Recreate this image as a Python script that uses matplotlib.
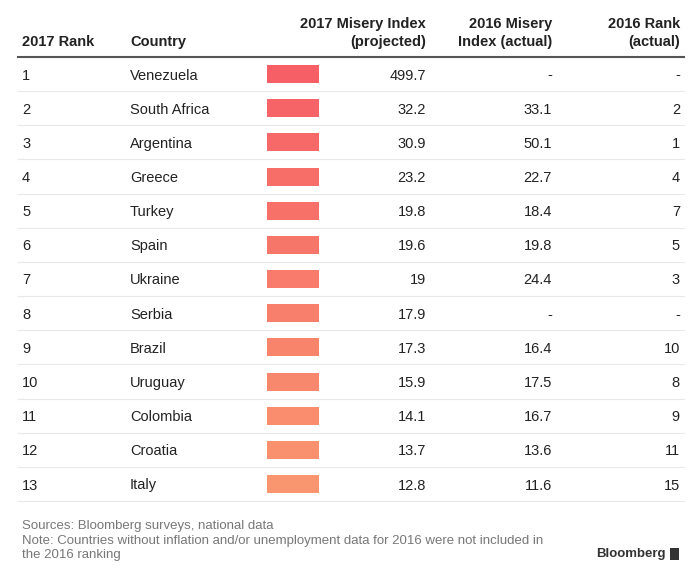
import matplotlib.pyplot as plt
import matplotlib.colors as mcolors
import numpy as np

plt.rcParams['font.family'] = ['Liberation Sans', 'DejaVu Sans']

ranks_2017 = ['1', '2', '3', '4', '5', '6', '7', '8', '9', '10', '11', '12', '13']
countries = ['Venezuela', 'South Africa', 'Argentina', 'Greece', 'Turkey', 'Spain',
             'Ukraine', 'Serbia', 'Brazil', 'Uruguay', 'Colombia', 'Croatia', 'Italy']
misery_2017 = ['499.7', '32.2', '30.9', '23.2', '19.8', '19.6', '19', '17.9',
               '17.3', '15.9', '14.1', '13.7', '12.8']
misery_2016 = ['-', '33.1', '50.1', '22.7', '18.4', '19.8', '24.4', '-',
               '16.4', '17.5', '16.7', '13.6', '11.6']
ranks_2016 = ['-', '2', '1', '4', '7', '5', '3', '-', '10', '8', '9', '11', '15']

fig = plt.figure(figsize=(7, 5.77), dpi=100)
ax = fig.add_axes([0, 0, 1, 1])
ax.set_xlim(0, 700)
ax.set_ylim(577, 0)
ax.axis('off')

dark = '#222222'
hfs = 10.5
fs = 10.5

# header
ax.text(22, 42, '2017 Rank', fontsize=hfs, fontweight='bold', color=dark, va='center')
ax.text(130, 42, 'Country', fontsize=hfs, fontweight='bold', color=dark, va='center')
ax.text(426, 33, '2017 Misery Index\n(projected)', fontsize=hfs, fontweight='bold',
        color=dark, va='center', ha='right', linespacing=1.3)
ax.text(552, 33, '2016 Misery\nIndex (actual)', fontsize=hfs, fontweight='bold',
        color=dark, va='center', ha='right', linespacing=1.3)
ax.text(680, 33, '2016 Rank\n(actual)', fontsize=hfs, fontweight='bold',
        color=dark, va='center', ha='right', linespacing=1.3)
ax.plot([18, 684], [57, 57], color='#555555', lw=1.5)

c_top = np.array(mcolors.to_rgb('#f65f66'))
c_bot = np.array(mcolors.to_rgb('#f9966f'))
step = (484 - 74) / 12
n = len(countries)
for i in range(n):
    y = 74 + i * step
    kw = dict(fontsize=fs, color=dark, va='center_baseline')
    ax.text(22, y, ranks_2017[i], **kw)
    ax.text(130, y, countries[i], **kw)
    col = c_top + (c_bot - c_top) * i / (n - 1)
    ax.add_patch(plt.Rectangle((267, y - 9), 52, 18, color=col, lw=0))
    ax.text(426, y, misery_2017[i], ha='right', **kw)
    ax.text(552, y, misery_2016[i], ha='right', **kw)
    ax.text(680, y, ranks_2016[i], ha='right', **kw)
    ax.plot([18, 684], [y + step / 2, y + step / 2], color='#e8e8e8', lw=0.8)

foot = '#777777'
ax.text(22, 526, 'Sources: Bloomberg surveys, national data', fontsize=9.5, color=foot, va='center')
ax.text(22, 541, 'Note: Countries without inflation and/or unemployment data for 2016 were not included in',
        fontsize=9.5, color=foot, va='center')
ax.text(22, 555, 'the 2016 ranking', fontsize=9.5, color=foot, va='center')
ax.text(666, 554, 'Bloomberg', fontsize=9.5, fontweight='bold', color='#333333', va='center', ha='right')
ax.add_patch(plt.Rectangle((670, 548), 9, 12, color='#333333', lw=0))

fig.savefig('out.png', dpi=100)
